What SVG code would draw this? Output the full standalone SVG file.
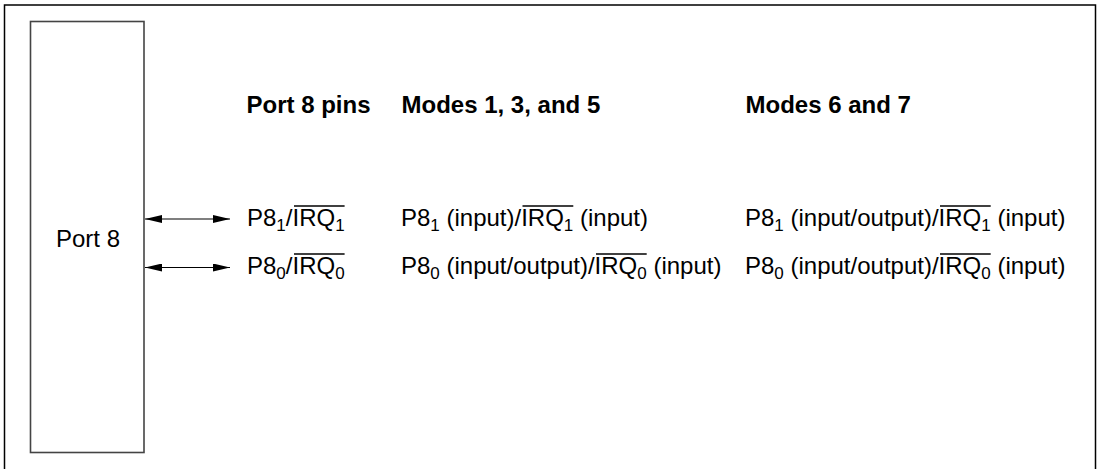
<svg xmlns="http://www.w3.org/2000/svg" width="1099" height="469" viewBox="0 0 1099 469">
<style>
text{font-family:"Liberation Sans",Arial,sans-serif;font-size:24px;fill:#000}
.b{font-weight:bold}
.s{font-size:17px}
.ov{stroke:#000;stroke-width:1.3}
.conn{stroke:#000;stroke-width:1.2;fill:none}
</style>
<defs>
<marker id="ah" markerWidth="17" markerHeight="8" refX="17" refY="4" orient="auto-start-reverse" markerUnits="userSpaceOnUse">
<path d="M0,0 L17,4 L0,8 Z" fill="#000"/>
</marker>
</defs>
<rect width="1099" height="469" fill="#fff"/>
<path d="M4.5,469 V5 H1095.5 V469" fill="none" stroke="#000" stroke-width="1.5"/>
<g id="port8">
<rect x="30.5" y="21.5" width="113.5" height="431" fill="#fff" stroke="#444" stroke-width="1.6"/>
<text x="56" y="247">Port 8</text>
</g>
<g id="headers">
<text class="b" x="246.5" y="113">Port 8 pins</text>
<text class="b" x="401.5" y="113">Modes 1, 3, and 5</text>
<text class="b" x="745.5" y="113">Modes 6 and 7</text>
</g>
<g id="pin1">
<text x="247" y="226">P8<tspan class="s" dy="5">1</tspan><tspan dy="-5">/IRQ</tspan><tspan class="s" dy="5">1</tspan></text>
<line class="ov" x1="294" y1="206" x2="344.6" y2="206"/>
</g>
<g id="pin0">
<text x="247" y="274">P8<tspan class="s" dy="5">0</tspan><tspan dy="-5">/IRQ</tspan><tspan class="s" dy="5">0</tspan></text>
<line class="ov" x1="294" y1="254" x2="344.6" y2="254"/>
</g>
<g id="mode135-p81">
<text x="401" y="226">P8<tspan class="s" dy="5">1</tspan><tspan dy="-5"> (input)/IRQ</tspan><tspan class="s" dy="5">1</tspan><tspan dy="-5"> (input)</tspan></text>
<line class="ov" x1="522.5" y1="206" x2="573.3" y2="206"/>
</g>
<g id="mode135-p80">
<text x="401" y="274">P8<tspan class="s" dy="5">0</tspan><tspan dy="-5"> (input/output)/IRQ</tspan><tspan class="s" dy="5">0</tspan><tspan dy="-5"> (input)</tspan></text>
<line class="ov" x1="596" y1="254" x2="646.7" y2="254"/>
</g>
<g id="mode67-p81">
<text x="745" y="226">P8<tspan class="s" dy="5">1</tspan><tspan dy="-5"> (input/output)/IRQ</tspan><tspan class="s" dy="5">1</tspan><tspan dy="-5"> (input)</tspan></text>
<line class="ov" x1="940" y1="206" x2="990.7" y2="206"/>
</g>
<g id="mode67-p80">
<text x="745" y="274">P8<tspan class="s" dy="5">0</tspan><tspan dy="-5"> (input/output)/IRQ</tspan><tspan class="s" dy="5">0</tspan><tspan dy="-5"> (input)</tspan></text>
<line class="ov" x1="940" y1="254" x2="990.7" y2="254"/>
</g>
<g id="connectors">
<line class="conn" x1="145" y1="219" x2="230" y2="219" marker-start="url(#ah)" marker-end="url(#ah)"/>
<line class="conn" x1="145" y1="267.5" x2="230" y2="267.5" marker-start="url(#ah)" marker-end="url(#ah)"/>
</g>
</svg>
